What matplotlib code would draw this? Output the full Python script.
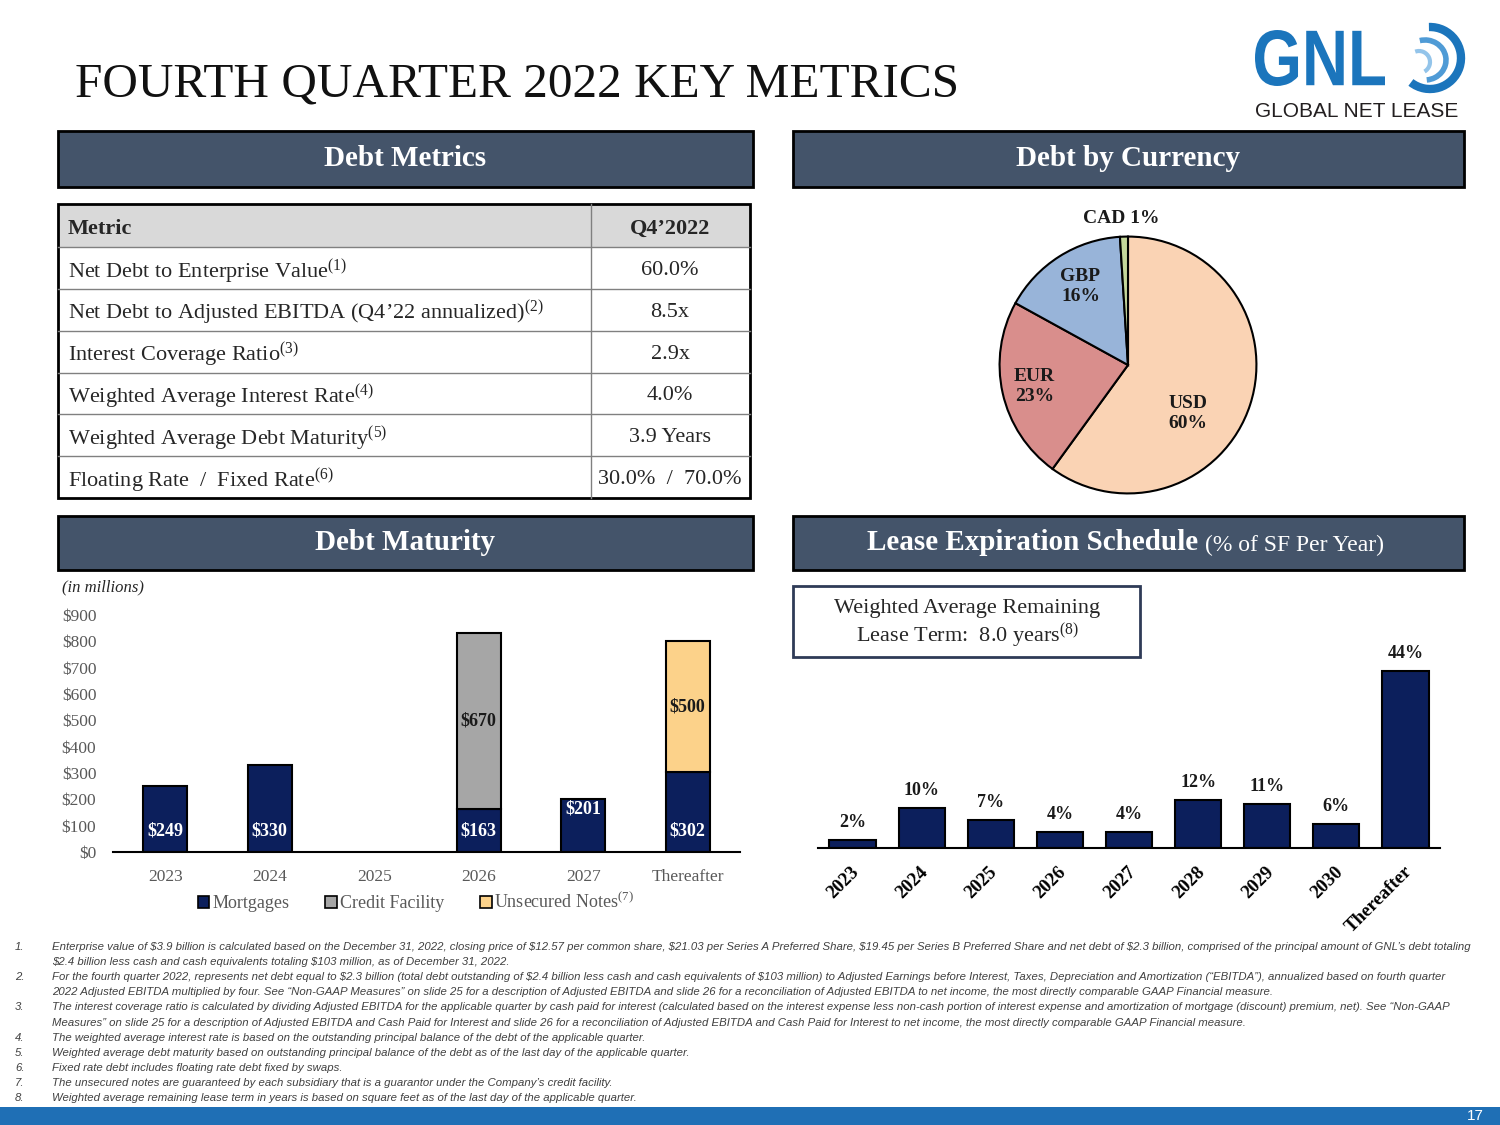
import matplotlib
matplotlib.use("Agg")
import matplotlib.pyplot as plt
from matplotlib.patches import Rectangle, Arc, Patch, PathPatch
from matplotlib.textpath import TextPath
from matplotlib.font_manager import FontProperties
from matplotlib.transforms import Affine2D
import numpy as np

plt.rcParams['font.family'] = ['Liberation Serif', 'DejaVu Serif']
plt.rcParams['mathtext.fontset'] = 'custom'
plt.rcParams['mathtext.rm'] = 'Liberation Serif'
plt.rcParams['mathtext.it'] = 'Liberation Serif:italic'
plt.rcParams['mathtext.bf'] = 'Liberation Serif:bold'

# Данные таблицы
metric_names = [
    "Net Debt to Enterprise Value$^{\\mathrm{(1)}}$",
    "Net Debt to Adjusted EBITDA (Q4\u201922 annualized)$^{\\mathrm{(2)}}$",
    "Interest Coverage Ratio$^{\\mathrm{(3)}}$",
    "Weighted Average Interest Rate$^{\\mathrm{(4)}}$",
    "Weighted Average Debt Maturity$^{\\mathrm{(5)}}$",
    "Floating Rate  /  Fixed Rate$^{\\mathrm{(6)}}$",
]
metric_values = ["60.0%", "8.5x", "2.9x", "4.0%", "3.9 Years", "30.0%  /  70.0%"]

# Долг по валютам
currencies = ["USD", "EUR", "GBP", "CAD"]
currency_share = [60, 23, 16, 1]

# Погашение долга (млн $)
maturity_years = ["2023", "2024", "2025", "2026", "2027", "Thereafter"]
mortgages = [249, 330, 0, 163, 201, 302]
credit_facility = [0, 0, 0, 670, 0, 0]
unsecured_notes = [0, 0, 0, 0, 0, 500]

# График истечения аренды (% SF)
lease_years = ["2023", "2024", "2025", "2026", "2027", "2028", "2029", "2030", "Thereafter"]
lease_pct = [2, 10, 7, 4, 4, 12, 11, 6, 44]

footnotes = [
    ("1.", "Enterprise value of $3.9 billion is calculated based on the December 31, 2022, closing price of $12.57 per common share, $21.03 per Series A Preferred Share, $19.45 per Series B Preferred Share and net debt of $2.3 billion, comprised of the principal amount of GNL\u2019s debt totaling"),
    ("", "$2.4 billion less cash and cash equivalents totaling $103 million, as of December 31, 2022."),
    ("2.", "For the fourth quarter 2022, represents net debt equal to $2.3 billion (total debt outstanding of $2.4 billion less cash and cash equivalents of $103 million) to Adjusted Earnings before Interest, Taxes, Depreciation and Amortization (\u201cEBITDA\u201d), annualized based on fourth quarter"),
    ("", "2022 Adjusted EBITDA multiplied by four. See \u201cNon-GAAP Measures\u201d on slide 25 for a description of Adjusted EBITDA and slide 26 for a reconciliation of Adjusted EBITDA to net income, the most directly comparable GAAP Financial measure."),
    ("3.", "The interest coverage ratio is calculated by dividing Adjusted EBITDA for the applicable quarter by cash paid for interest (calculated based on the interest expense less non-cash portion of interest expense and amortization of mortgage (discount) premium, net). See \u201cNon-GAAP"),
    ("", "Measures\u201d on slide 25 for a description of Adjusted EBITDA and Cash Paid for Interest and slide 26 for a reconciliation of Adjusted EBITDA and Cash Paid for Interest to net income, the most directly comparable GAAP Financial measure."),
    ("4.", "The weighted average interest rate is based on the outstanding principal balance of the debt of the applicable quarter."),
    ("5.", "Weighted average debt maturity based on outstanding principal balance of the debt as of the last day of the applicable quarter."),
    ("6.", "Fixed rate debt includes floating rate debt fixed by swaps."),
    ("7.", "The unsecured notes are guaranteed by each subsidiary that is a guarantor under the Company\u2019s credit facility."),
    ("8.", "Weighted average remaining lease term in years is based on square feet as of the last day of the applicable quarter."),
]

NAVY = '#0c1f5c'
SLATE = '#44546a'
GRAY_TXT = '#595959'
DARK_TXT = '#262626'
BLUE = '#1b75bc'

W, H = 1500, 1125
fig = plt.figure(figsize=(15, 11.25), dpi=100)

# Слой для оформления слайда в пикселях
ov = fig.add_axes([0, 0, 1, 1], zorder=0)
ov.set_xlim(0, W)
ov.set_ylim(H, 0)
ov.axis('off')


def fax(x0, y0, x1, y1, **kw):
    # оси по пиксельным координатам (y сверху вниз)
    return fig.add_axes([x0 / W, (H - y1) / H, (x1 - x0) / W, (y1 - y0) / H], **kw)


# Заголовок
ov.text(75, 97, "FOURTH QUARTER 2022 KEY METRICS", fontsize=35.5, va='baseline', color='#111111')

# Логотип: сжатый по ширине текст GNL
gnl = TextPath((0, 0), "GNL", size=100, prop=FontProperties(family='Liberation Sans', weight='bold'))
bb = gnl.get_extents()
tr = Affine2D().translate(-bb.x0, -bb.y0).scale(130 / bb.width, -56 / bb.height).translate(1255, 86)
ov.add_patch(PathPatch(tr.transform_path(gnl), facecolor=BLUE, edgecolor='none'))
ov.text(1255, 117, "GLOBAL NET LEASE", fontsize=15, color='#231f20', va='baseline',
        family=['Liberation Sans', 'DejaVu Sans'])
ov.add_patch(Arc((1430, 58), 62, 62, theta1=-92, theta2=128, lw=6, color=BLUE))
ov.add_patch(Arc((1425, 60), 42, 40, theta1=-105, theta2=85, lw=4, color='#4f9bd6'))
ov.add_patch(Arc((1419, 62), 22, 22, theta1=-110, theta2=60, lw=3, color='#93c4ea'))

# Заголовки блоков
def header(x0, y0, x1, y1):
    ov.add_patch(Rectangle((x0, y0), x1 - x0, y1 - y0, facecolor=SLATE, edgecolor='black', lw=2))

header(58, 131, 753, 187)
header(793, 131, 1464, 187)
header(58, 516, 753, 570)
header(793, 516, 1464, 570)
ov.text(405, 159, "Debt Metrics", fontsize=21, weight='bold', color='white', ha='center', va='center')
ov.text(1128, 159, "Debt by Currency", fontsize=21, weight='bold', color='white', ha='center', va='center')
ov.text(405, 543, "Debt Maturity", fontsize=21, weight='bold', color='white', ha='center', va='center')
ov.text(1198, 543, "Lease Expiration Schedule", fontsize=21, weight='bold', color='white', ha='right', va='center')
ov.text(1205, 545, "(% of SF Per Year)", fontsize=17, color='white', ha='left', va='center')

# Таблица
tx0, tx1, tcol = 58, 750, 591
ty0, thead = 204, 247
row_h = (498 - thead) / len(metric_names)
ov.add_patch(Rectangle((tx0, ty0), tx1 - tx0, thead - ty0, facecolor='#d9d9d9', edgecolor='none'))
for k in range(1, len(metric_names)):
    y = thead + k * row_h
    ov.plot([tx0, tx1], [y, y], color='#808080', lw=1)
ov.plot([tx0, tx1], [thead, thead], color='#808080', lw=1)
ov.plot([tcol, tcol], [ty0, 498], color='#808080', lw=1)
ov.add_patch(Rectangle((tx0, ty0), tx1 - tx0, 498 - ty0, fill=False, edgecolor='black', lw=2))
ov.text(68, 226, "Metric", fontsize=16, weight='bold', color=DARK_TXT, va='center_baseline')
ov.text(670, 226, "Q4\u20192022", fontsize=16, weight='bold', color=DARK_TXT, ha='center', va='center_baseline')
for k, (name, val) in enumerate(zip(metric_names, metric_values)):
    yc = thead + (k + 0.5) * row_h
    ov.text(68, yc, name, fontsize=16, color=DARK_TXT, va='center_baseline')
    ov.text(670, yc, val, fontsize=16, color=DARK_TXT, ha='center', va='center_baseline')

# Круговая диаграмма
axp = fax(997, 234, 1259, 496)
pie_colors = ['#fad3b4', '#d98e8c', '#98b4d9', '#c4d79b']
axp.pie(currency_share, colors=pie_colors, startangle=90, counterclock=False,
        wedgeprops=dict(edgecolor='black', linewidth=1.5))
axp.set_xlim(-1.02, 1.02)
axp.set_ylim(-1.02, 1.02)
label_xy = [(0.47, -0.38), (-0.73, -0.17), (-0.37, 0.61), (-0.05, 1.14)]
for cur, share, (lx, ly) in zip(currencies, currency_share, label_xy):
    txt = f"{cur} {share}%" if share < 5 else f"{cur}\n{share}%"
    axp.text(lx, ly, txt, ha='center', va='center', fontsize=14, weight='bold',
             color='#1a1a1a', linespacing=1.25)

# Погашение долга
ax1 = fax(113, 615, 740, 852)
ax1.set_facecolor('none')
x = np.arange(len(maturity_years))
bw = 0.42
base2 = np.array(mortgages)
base3 = base2 + np.array(credit_facility)
for i in x:
    if mortgages[i] > 0:
        ax1.bar(i, mortgages[i], width=bw, color=NAVY, edgecolor='black', lw=1.5)
    if credit_facility[i] > 0:
        ax1.bar(i, credit_facility[i], bottom=base2[i], width=bw, color='#a6a6a6', edgecolor='black', lw=1.5)
    if unsecured_notes[i] > 0:
        ax1.bar(i, unsecured_notes[i], bottom=base3[i], width=bw, color='#fcd28a', edgecolor='black', lw=1.5)

for i in x:
    if mortgages[i] > 0:
        if maturity_years[i] == "2027":
            ax1.annotate(f"${mortgages[i]}", (i, mortgages[i]), xytext=(0, -10), textcoords='offset pixels',
                         ha='center', va='center', fontsize=13, weight='bold', color='white')
        else:
            ax1.annotate(f"${mortgages[i]}", (i, 0), xytext=(0, 21), textcoords='offset pixels',
                         ha='center', va='center', fontsize=13, weight='bold', color='white')
    if credit_facility[i] > 0:
        ax1.text(i, base2[i] + credit_facility[i] / 2, f"${credit_facility[i]}", ha='center', va='center',
                 fontsize=13, weight='bold', color='#1a1a1a')
    if unsecured_notes[i] > 0:
        ax1.text(i, base3[i] + unsecured_notes[i] / 2, f"${unsecured_notes[i]}", ha='center', va='center',
                 fontsize=13, weight='bold', color='#1a1a1a')

ax1.set_xlim(-0.5, len(x) - 0.5)
ax1.set_ylim(0, 900)
ax1.set_yticks(range(0, 1000, 100))
ax1.set_yticklabels([f"${v}" for v in range(0, 1000, 100)])
ax1.set_xticks(x)
ax1.set_xticklabels(maturity_years)
ax1.tick_params(length=0, labelsize=12.5, labelcolor=GRAY_TXT)
ax1.tick_params(axis='y', pad=12)
ax1.tick_params(axis='x', pad=12)
for s in ['left', 'top', 'right']:
    ax1.spines[s].set_visible(False)
ax1.spines['bottom'].set_linewidth(1.5)
ov.text(62, 587, "(in millions)", fontsize=12, style='italic', color=DARK_TXT, va='center')

handles = [Patch(facecolor=NAVY, edgecolor='black', lw=1.2),
           Patch(facecolor='#a6a6a6', edgecolor='black', lw=1.2),
           Patch(facecolor='#fcd28a', edgecolor='black', lw=1.2)]
leg = ax1.legend(handles, ["Mortgages", "Credit Facility", "Unsecured Notes$^{\\mathrm{(7)}}$"],
                 loc='center', bbox_to_anchor=(416, 902), bbox_transform=ov.transData,
                 ncol=3, frameon=False, handlelength=0.65, handleheight=0.65, handletextpad=0.15,
                 columnspacing=2.0, fontsize=13)
for t in leg.get_texts():
    t.set_color(GRAY_TXT)

# Истечение аренды
ax2 = fax(818, 647, 1440, 848)
ax2.set_facecolor('none')
xl = np.arange(len(lease_years))
ax2.bar(xl, lease_pct, width=0.67, color=NAVY, edgecolor='black', lw=1.5)
for i, v in zip(xl, lease_pct):
    ax2.annotate(f"{v}%", (i, v), xytext=(0, 9), textcoords='offset pixels', ha='center', va='bottom',
                 fontsize=13, weight='bold', color='#1a1a1a')
    ax2.annotate(lease_years[i], (i, 0), xytext=(4, -21), textcoords='offset pixels', ha='right',
                 va='center', rotation=45, rotation_mode='anchor', fontsize=13.5, weight='bold',
                 color='black', annotation_clip=False)
ax2.set_xlim(-0.5, len(xl) - 0.5)
ax2.set_ylim(0, 50)
ax2.set_xticks([])
ax2.set_yticks([])
for s in ['left', 'top', 'right']:
    ax2.spines[s].set_visible(False)
ax2.spines['bottom'].set_linewidth(1.5)

ov.add_patch(Rectangle((793, 586), 347, 71, facecolor='white', edgecolor='#2f3b57', lw=2))
ov.text(967, 608, "Weighted Average Remaining", fontsize=16, color=DARK_TXT, ha='center', va='center')
ov.text(967, 636, "Lease Term:  8.0 years$^{\\mathrm{(8)}}$", fontsize=16, color=DARK_TXT, ha='center', va='center')

# Сноски
for k, (num, line) in enumerate(footnotes):
    y = 947 + k * 15.1
    if num:
        ov.text(15, y, num, fontsize=8.2, style='italic', color='#404040', va='center',
                family=['Liberation Sans', 'DejaVu Sans'])
    ov.text(52, y, line, fontsize=8.2, style='italic', color='#404040', va='center', parse_math=False,
            family=['Liberation Sans', 'DejaVu Sans'])

# Нижняя полоса
ov.add_patch(Rectangle((0, 1107), W, 18, facecolor='#1f6fb5', edgecolor='none'))
ov.text(1475, 1116, "17", fontsize=11, color='white', ha='center', va='center',
        family=['Liberation Sans', 'DejaVu Sans'])

fig.savefig('out.png', dpi=100)
